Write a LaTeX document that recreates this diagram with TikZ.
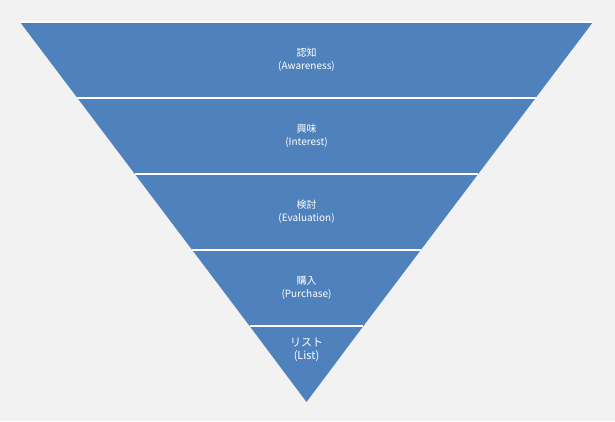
\documentclass[tikz,border=0pt]{standalone}
\usepackage{fontspec}
\setmainfont{Noto Sans CJK JP}
\definecolor{bandblue}{HTML}{4F81BD}
\definecolor{bggray}{HTML}{F2F2F2}
% one band of the funnel: name, top y, bottom y, text
\newcommand{\band}[4]{
  \fill[bandblue] ({20+(#2-22)*0.7553},{421-#2}) -- ({593-(#2-22)*0.7553},{421-#2})
    -- ({593-(#3-22)*0.7553},{421-#3}) -- ({20+(#3-22)*0.7553},{421-#3}) -- cycle;
  \node[bandtext] (#1) at (306.5,{421-(#2+#3)/2}) {#4};}
\newcommand{\sep}[2]{\draw[sepline] ({20+(#2-22)*0.7553},{421-#2}) coordinate (#1l) -- ({593-(#2-22)*0.7553},{421-#2}) coordinate (#1r);}

\begin{document}
\begin{tikzpicture}[x=1pt,y=1pt,
    bandtext/.style={text=white,font=\fontsize{10}{13}\selectfont,align=center},
    sepline/.style={white,line width=1.5pt}]
    \fill[bggray] (0,0) rectangle (615,421);
    \useasboundingbox (0,0) rectangle (615,421);
    \band{aware}{22}{98}{認知\\(Awareness)}
    \band{interest}{98}{174}{興味\\(Interest)}
    \band{eval}{174}{250}{検討\\(Evaluation)}
    \band{buy}{250}{326}{購入\\(Purchase)}
    \fill[bandblue] ({20+304*0.7553},95) -- ({593-304*0.7553},95) -- (306.5,19) -- cycle;
    \node[bandtext,font=\fontsize{11}{13}\selectfont] (list) at (306.5,71) {リスト\\(List)};
    \sep{top}{22}\sep{a}{98}\sep{b}{174}\sep{c}{250}\sep{d}{326}
\end{tikzpicture}
\end{document}
